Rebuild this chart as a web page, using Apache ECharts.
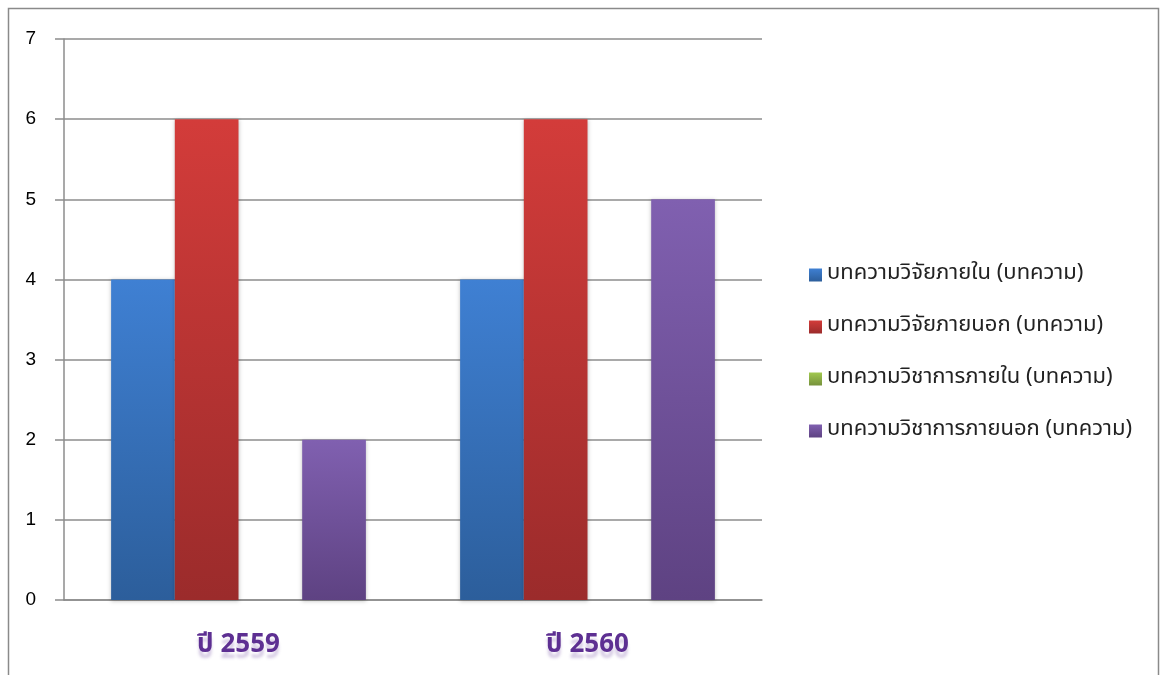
<!DOCTYPE html>
<html><head><meta charset="utf-8">
<script src="https://cdn.jsdelivr.net/npm/echarts@6/dist/echarts.min.js"></script>
<style>html,body{margin:0;padding:0;background:#fff}#c{width:1160px;height:675px}</style>
</head><body><div id="c"></div>
<script>
var categories = ['ปี 2559', 'ปี 2560'];
var seriesNames = ['บทความวิจัยภายใน (บทความ)', 'บทความวิจัยภายนอก (บทความ)', 'บทความวิชาการภายใน (บทความ)', 'บทความวิชาการภายนอก (บทความ)'];
var researchInternal = [4, 4];
var researchExternal = [6, 6];
var academicInternal = [0, 0];
var academicExternal = [2, 5];
var yTicks = [0, 1, 2, 3, 4, 5, 6, 7];

var colors = [
  ['#3f80d3', '#2c5e9b'],
  ['#d33c3a', '#9b2b2b'],
  ['#a1c84f', '#76923c'],
  ['#8060b0', '#5e4282']
];
function grad(c) {
  return new echarts.graphic.LinearGradient(0, 0, 0, 1, [{offset: 0, color: c[0]}, {offset: 1, color: c[1]}]);
}
var dataArr = [researchInternal, researchExternal, academicInternal, academicExternal];
var fontFam = '"Noto Sans Thai", Tahoma, "Leelawadee UI", "Noto Sans", "DejaVu Sans", sans-serif';
var chart = echarts.init(document.getElementById('c'));
chart.setOption({
  animation: false,
  color: colors.map(function (c) { return c[0]; }),
  graphic: [{
    type: 'rect', shape: {x: 8.5, y: 8.5, width: 1150, height: 700},
    style: {fill: 'none', stroke: '#8a8a8a', lineWidth: 1.5}, silent: true, z: -1
  }],
  grid: {left: 64, right: 398, top: 39, bottom: 75, containLabel: false},
  legend: {
    orient: 'vertical', left: 804, top: 258, itemGap: 28, itemWidth: 13, itemHeight: 13,
    icon: 'rect',
    textStyle: {fontSize: 22, color: '#222', fontFamily: fontFam, lineHeight: 24},
    data: seriesNames.map(function (n, i) { return {name: n, itemStyle: {color: grad(colors[i])}}; })
  },
  xAxis: {
    type: 'category', data: categories,
    axisLine: {lineStyle: {color: '#8c8c8c', width: 1.5}},
    axisTick: {length: 9, lineStyle: {color: '#8c8c8c', width: 1.5}},
    axisLabel: {fontSize: 26, fontWeight: 'bold', color: '#5d2f92', margin: 34, fontFamily: fontFam,
      textShadowColor: 'rgba(93,47,146,0.25)', textShadowBlur: 3, textShadowOffsetY: 6}
  },
  yAxis: {
    type: 'value', min: 0, max: 7, interval: 1,
    axisLine: {show: true, lineStyle: {color: '#8c8c8c', width: 1.5}},
    axisTick: {show: true, length: 9, lineStyle: {color: '#8c8c8c', width: 1.5}},
    splitLine: {lineStyle: {color: '#8c8c8c', width: 1.5}},
    axisLabel: {fontSize: 19, color: '#000', margin: 28, fontFamily: 'Liberation Sans, Arial, sans-serif',
      formatter: function (v) { return yTicks.indexOf(v) >= 0 ? String(v) : ''; }}
  },
  series: dataArr.map(function (d, i) {
    return {
      name: seriesNames[i], type: 'bar', data: d, barGap: '0%', barCategoryGap: '27%',
      itemStyle: {color: grad(colors[i]), shadowColor: 'rgba(0,0,0,0.25)', shadowBlur: 4, shadowOffsetY: 1}
    };
  })
});
</script></body></html>
